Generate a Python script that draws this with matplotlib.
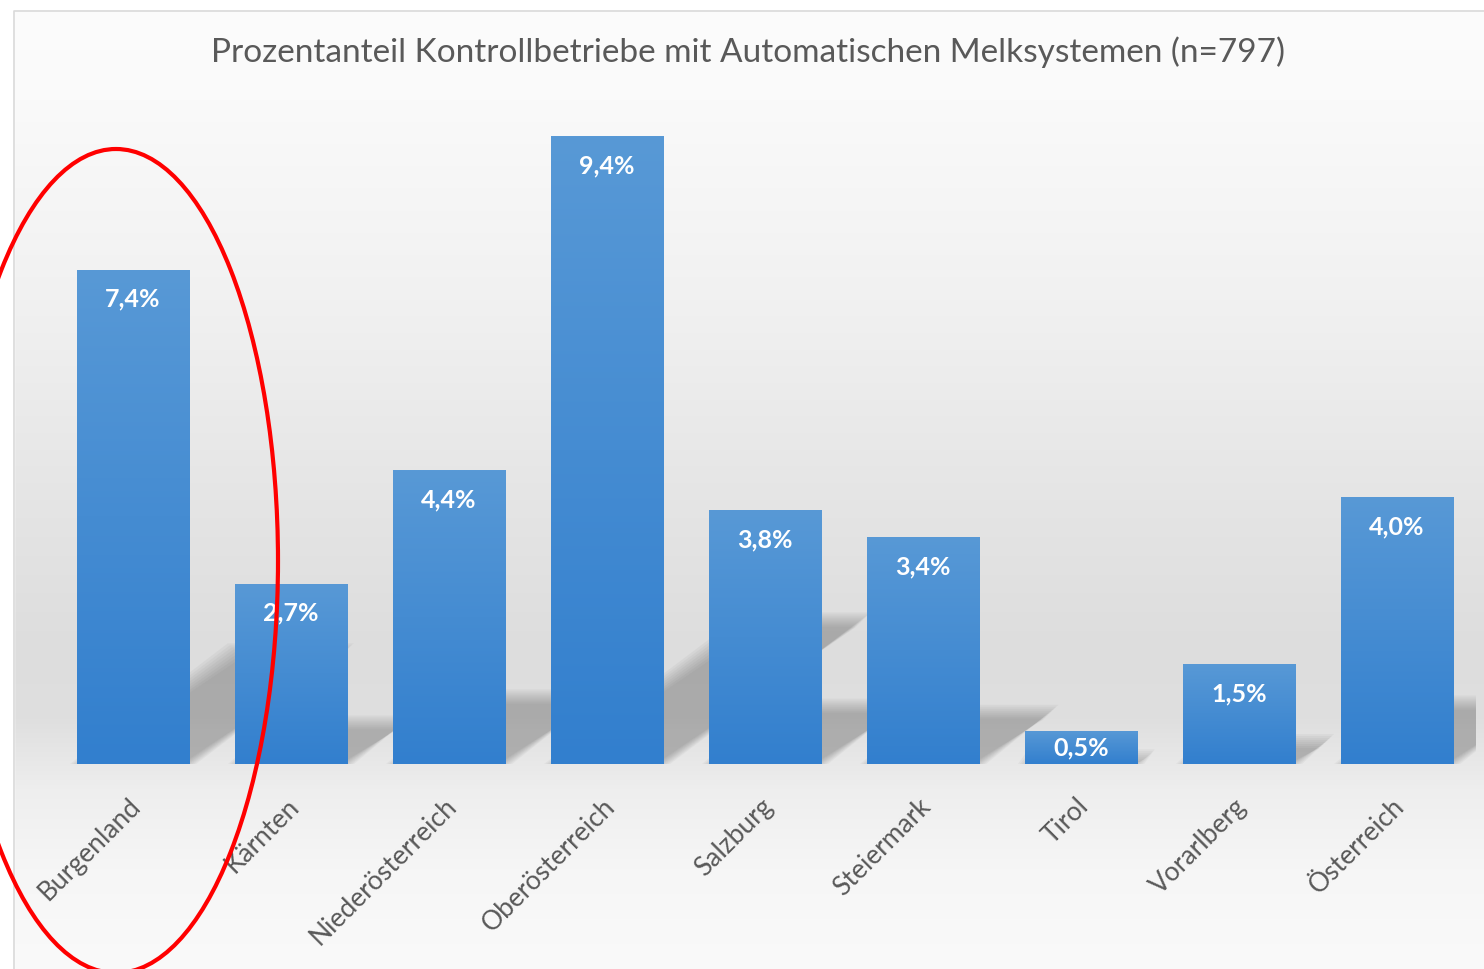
import numpy as np
import matplotlib.pyplot as plt
import matplotlib.transforms as mtransforms
from matplotlib.patches import Ellipse, Polygon, Rectangle

regions = ['Burgenland', 'Kärnten', 'Niederösterreich', 'Oberösterreich', 'Salzburg',
           'Steiermark', 'Tirol', 'Vorarlberg', 'Österreich']
share = [7.4, 2.7, 4.4, 9.4, 3.8, 3.4, 0.5, 1.5, 4.0]
title = 'Prozentanteil Kontrollbetriebe mit Automatischen Melksystemen (n=797)'

FONT = ['Lato', 'DejaVu Sans']
W, H = 1484, 970
fig = plt.figure(figsize=(W / 100, H / 100), dpi=100)

# background: soft vertical grey gradient inside a thin frame
bg = fig.add_axes([0, 0, 1, 1], zorder=-2)
py = np.arange(H)
shade = np.interp(py, [0, 100, 300, 500, 650, 720, 790, 870, 970],
                  [252, 250, 241, 229, 221, 223, 238, 246, 250]) / 255
img = np.repeat(shade[:, None], 3, axis=1)[:, None, :]
bg.imshow(img, extent=(0, W, H, 0), aspect='auto')
bg.add_patch(Rectangle((0, 0), W, 12, color='white', zorder=3))
bg.add_patch(Rectangle((0, 0), 14, H, color='white', zorder=3))
bg.plot([14, 14, W], [H, 12, 12], color='#d9d9d9', lw=1.2, zorder=4)
bg.set_xlim(0, W)
bg.set_ylim(H, 0)
bg.axis('off')

ax = fig.add_axes([54 / W, 205 / H, 1422 / W, 668 / H])
ax.patch.set_alpha(0)
x = np.arange(len(regions))
width = 0.71
bars = ax.bar(x, share, width, color='#3f88d1', zorder=3)

# soft perspective shadows behind the bars
ex, ey = 158.0, 66.8  # pixels per data unit
for xi, v in zip(x, share):
    dy, dx = 0.23 * v, 0.135 * v
    for e in np.linspace(-7, 7, 8):
        gx, gy = e / ex, e / ey
        ax.add_patch(Polygon([(xi - width / 2 - gx, 0), (xi + width / 2 + gx, 0),
                              (xi + width / 2 + dx + gx, dy + gy),
                              (xi - width / 2 + dx - gx, dy + gy)],
                             closed=True, color='#505050', alpha=0.05, lw=0, zorder=1))

# vertical gradient on each bar
grad = np.linspace(0, 1, 256)[:, None]
top_c = np.array([88, 153, 214]) / 255
bot_c = np.array([50, 127, 206]) / 255
for b in bars:
    x0, w0, h0 = b.get_x(), b.get_width(), b.get_height()
    cols = (top_c[None, None, :] * (1 - grad[..., None]) + bot_c[None, None, :] * grad[..., None])
    im = ax.imshow(cols, extent=(x0, x0 + w0, 0, h0), aspect='auto', zorder=4)
    im.set_clip_path(b)

for xi, v in zip(x, share):
    ax.text(xi, max(v - 0.43, v / 2), f'{v:.1f}%'.replace('.', ','),
            ha='center', va='center', color='white', fontsize=18,
            fontweight='bold', family=FONT, zorder=6)

ax.set_xlim(-0.5, len(regions) - 0.5)
ax.set_ylim(0, 10)
ax.set_yticks([])
ax.set_xticks(x)
ax.set_xticklabels(regions, rotation=45, ha='right', va='center', rotation_mode='anchor',
                   fontsize=19, color='#595959', family=FONT)
ax.tick_params(axis='x', length=0, pad=27)
shift = mtransforms.ScaledTranslation(4 / 100, 0, fig.dpi_scale_trans)
for lab in ax.get_xticklabels():
    lab.set_transform(lab.get_transform() + shift)
for s in ax.spines.values():
    s.set_visible(False)

fig.text(0.5 + 6 / W, 1 - 52 / H, title, ha='center', va='center',
         fontsize=24, color='#595959', family=FONT)

# red ellipse highlighting Burgenland
fig.patches.append(Ellipse((116 / W, 1 - 562 / H), 324 / W, 824 / H, fill=False,
                           edgecolor='#ff0000', lw=3, transform=fig.transFigure, zorder=10))

fig.savefig('out.png', dpi=100)
